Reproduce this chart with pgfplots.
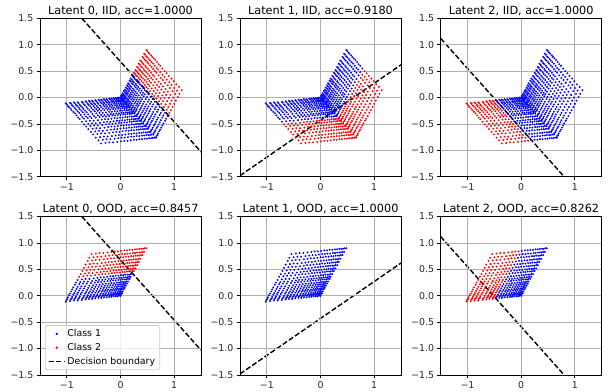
\documentclass[border=0pt]{standalone}
\usepackage{fontspec}
\setmainfont{DejaVu Sans}
\usepackage{pgfplots}
\usepackage{pgfplotstable}
\pgfplotsset{compat=1.18}

\definecolor{gridgray}{RGB}{176,176,176}
\definecolor{legendgray}{RGB}{204,204,204}

% Embedded points, one table per face and per quadrant of the two latents
% that vary on that face (L = latent below 0.5, H = latent above 0.5).
% Face uv: latent 2 fixed at 0 (IID)
\pgfplotstableread{
x y
0.00 0.00
0.02 -0.02
0.04 -0.05
0.06 -0.07
0.09 -0.10
0.11 -0.13
0.14 -0.16
0.17 -0.19
0.20 -0.23
0.23 -0.27
0.26 -0.30
0.30 -0.35
0.01 0.03
0.03 0.01
0.05 -0.02
0.07 -0.04
0.10 -0.07
0.12 -0.10
0.15 -0.13
0.18 -0.16
0.21 -0.20
0.24 -0.24
0.27 -0.27
0.31 -0.32
0.03 0.05
0.05 0.03
0.07 0.00
0.09 -0.02
0.12 -0.05
0.14 -0.08
0.17 -0.11
0.20 -0.14
0.23 -0.18
0.26 -0.22
0.29 -0.25
0.33 -0.30
0.04 0.08
0.06 0.06
0.08 0.03
0.10 0.01
0.13 -0.02
0.15 -0.05
0.18 -0.08
0.21 -0.11
0.24 -0.15
0.27 -0.19
0.30 -0.22
0.34 -0.27
0.06 0.12
0.08 0.10
0.10 0.07
0.12 0.05
0.15 0.02
0.17 -0.01
0.20 -0.04
0.23 -0.07
0.26 -0.11
0.29 -0.15
0.32 -0.18
0.36 -0.23
0.08 0.15
0.10 0.13
0.12 0.10
0.14 0.08
0.17 0.05
0.19 0.02
0.22 -0.01
0.25 -0.04
0.28 -0.08
0.31 -0.12
0.34 -0.15
0.38 -0.20
0.10 0.19
0.12 0.17
0.14 0.14
0.16 0.12
0.19 0.09
0.21 0.06
0.24 0.03
0.27 0.00
0.30 -0.04
0.33 -0.08
0.36 -0.11
0.40 -0.16
0.12 0.23
0.14 0.21
0.16 0.18
0.18 0.16
0.21 0.13
0.23 0.10
0.26 0.07
0.29 0.04
0.32 0.00
0.35 -0.04
0.38 -0.07
0.42 -0.12
0.14 0.27
0.16 0.25
0.18 0.22
0.20 0.20
0.23 0.17
0.25 0.14
0.28 0.11
0.31 0.08
0.34 0.04
0.37 0.00
0.40 -0.03
0.44 -0.08
0.17 0.32
0.19 0.30
0.21 0.27
0.23 0.25
0.26 0.22
0.28 0.19
0.31 0.16
0.34 0.13
0.37 0.09
0.40 0.05
0.43 0.02
0.47 -0.03
0.19 0.36
0.21 0.34
0.23 0.31
0.25 0.29
0.28 0.26
0.30 0.23
0.33 0.20
0.36 0.17
0.39 0.13
0.42 0.09
0.45 0.06
0.49 0.01
0.22 0.41
0.24 0.39
0.26 0.36
0.28 0.34
0.31 0.31
0.33 0.28
0.36 0.25
0.39 0.22
0.42 0.18
0.45 0.14
0.48 0.11
0.52 0.06
}\uvLL
\pgfplotstableread{
x y
0.34 -0.40
0.38 -0.44
0.42 -0.49
0.47 -0.54
0.51 -0.59
0.56 -0.65
0.61 -0.70
0.66 -0.76
0.35 -0.37
0.39 -0.41
0.43 -0.46
0.48 -0.51
0.52 -0.56
0.57 -0.62
0.62 -0.67
0.67 -0.73
0.37 -0.35
0.41 -0.39
0.45 -0.44
0.50 -0.49
0.54 -0.54
0.59 -0.60
0.64 -0.65
0.69 -0.71
0.38 -0.32
0.42 -0.36
0.46 -0.41
0.51 -0.46
0.55 -0.51
0.60 -0.57
0.65 -0.62
0.70 -0.68
0.40 -0.28
0.44 -0.32
0.48 -0.37
0.53 -0.42
0.57 -0.47
0.62 -0.53
0.67 -0.58
0.72 -0.64
0.42 -0.25
0.46 -0.29
0.50 -0.34
0.55 -0.39
0.59 -0.44
0.64 -0.50
0.69 -0.55
0.74 -0.61
0.44 -0.21
0.48 -0.25
0.52 -0.30
0.57 -0.35
0.61 -0.40
0.66 -0.46
0.71 -0.51
0.76 -0.57
0.46 -0.17
0.50 -0.21
0.54 -0.26
0.59 -0.31
0.63 -0.36
0.68 -0.42
0.73 -0.47
0.78 -0.53
0.48 -0.13
0.52 -0.17
0.56 -0.22
0.61 -0.27
0.65 -0.32
0.70 -0.38
0.75 -0.43
0.80 -0.49
0.51 -0.08
0.55 -0.12
0.59 -0.17
0.64 -0.22
0.68 -0.27
0.73 -0.33
0.78 -0.38
0.83 -0.44
0.53 -0.04
0.57 -0.08
0.61 -0.13
0.66 -0.18
0.70 -0.23
0.75 -0.29
0.80 -0.34
0.85 -0.40
0.56 0.01
0.60 -0.03
0.64 -0.08
0.69 -0.13
0.73 -0.18
0.78 -0.24
0.83 -0.29
0.88 -0.35
}\uvLH
\pgfplotstableread{
x y
0.25 0.47
0.27 0.45
0.29 0.42
0.31 0.40
0.34 0.37
0.36 0.34
0.39 0.31
0.42 0.28
0.45 0.24
0.48 0.20
0.51 0.17
0.55 0.12
0.28 0.52
0.30 0.50
0.32 0.47
0.34 0.45
0.37 0.42
0.39 0.39
0.42 0.36
0.45 0.33
0.48 0.29
0.51 0.25
0.54 0.22
0.58 0.17
0.31 0.58
0.33 0.56
0.35 0.53
0.37 0.51
0.40 0.48
0.42 0.45
0.45 0.42
0.48 0.39
0.51 0.35
0.54 0.31
0.57 0.28
0.61 0.23
0.34 0.64
0.36 0.62
0.38 0.59
0.40 0.57
0.43 0.54
0.45 0.51
0.48 0.48
0.51 0.45
0.54 0.41
0.57 0.37
0.60 0.34
0.64 0.29
0.37 0.70
0.39 0.68
0.41 0.65
0.43 0.63
0.46 0.60
0.48 0.57
0.51 0.54
0.54 0.51
0.57 0.47
0.60 0.43
0.63 0.40
0.67 0.35
0.41 0.77
0.43 0.75
0.45 0.72
0.47 0.70
0.50 0.67
0.52 0.64
0.55 0.61
0.58 0.58
0.61 0.54
0.64 0.50
0.67 0.47
0.71 0.42
0.44 0.83
0.46 0.81
0.48 0.78
0.50 0.76
0.53 0.73
0.55 0.70
0.58 0.67
0.61 0.64
0.64 0.60
0.67 0.56
0.70 0.53
0.74 0.48
0.48 0.90
0.50 0.88
0.52 0.85
0.54 0.83
0.57 0.80
0.59 0.77
0.62 0.74
0.65 0.71
0.68 0.67
0.71 0.63
0.74 0.60
0.78 0.55
}\uvHL
\pgfplotstableread{
x y
0.59 0.07
0.63 0.03
0.67 -0.02
0.72 -0.07
0.76 -0.12
0.81 -0.18
0.86 -0.23
0.91 -0.29
0.62 0.12
0.66 0.08
0.70 0.03
0.75 -0.02
0.79 -0.07
0.84 -0.13
0.89 -0.18
0.94 -0.24
0.65 0.18
0.69 0.14
0.73 0.09
0.78 0.04
0.82 -0.01
0.87 -0.07
0.92 -0.12
0.97 -0.18
0.68 0.24
0.72 0.20
0.76 0.15
0.81 0.10
0.85 0.05
0.90 -0.01
0.95 -0.06
1.00 -0.12
0.71 0.30
0.75 0.26
0.79 0.21
0.84 0.16
0.88 0.11
0.93 0.05
0.98 0.00
1.03 -0.06
0.75 0.37
0.79 0.33
0.83 0.28
0.88 0.23
0.92 0.18
0.97 0.12
1.02 0.07
1.07 0.01
0.78 0.43
0.82 0.39
0.86 0.34
0.91 0.29
0.95 0.24
1.00 0.18
1.05 0.13
1.10 0.07
0.82 0.50
0.86 0.46
0.90 0.41
0.95 0.36
0.99 0.31
1.04 0.25
1.09 0.20
1.14 0.14
}\uvHH
% Face vw: latent 0 fixed at 0 (IID)
\pgfplotstableread{
x y
0.00 0.00
-0.03 0.00
-0.06 -0.01
-0.09 -0.01
-0.13 -0.01
-0.17 -0.02
-0.21 -0.02
-0.26 -0.03
-0.31 -0.03
-0.36 -0.04
-0.41 -0.04
-0.47 -0.05
0.02 -0.02
-0.01 -0.02
-0.04 -0.03
-0.07 -0.03
-0.11 -0.03
-0.15 -0.04
-0.19 -0.04
-0.24 -0.05
-0.29 -0.05
-0.34 -0.06
-0.39 -0.06
-0.45 -0.07
0.04 -0.05
0.01 -0.05
-0.02 -0.06
-0.05 -0.06
-0.09 -0.06
-0.13 -0.07
-0.17 -0.07
-0.22 -0.08
-0.27 -0.08
-0.32 -0.09
-0.37 -0.09
-0.43 -0.10
0.06 -0.07
0.03 -0.07
0.00 -0.08
-0.03 -0.08
-0.07 -0.08
-0.11 -0.09
-0.15 -0.09
-0.20 -0.10
-0.25 -0.10
-0.30 -0.11
-0.35 -0.11
-0.41 -0.12
0.09 -0.10
0.06 -0.10
0.03 -0.11
0.00 -0.11
-0.04 -0.11
-0.08 -0.12
-0.12 -0.12
-0.17 -0.13
-0.22 -0.13
-0.27 -0.14
-0.32 -0.14
-0.38 -0.15
0.11 -0.13
0.08 -0.13
0.05 -0.14
0.02 -0.14
-0.02 -0.14
-0.06 -0.15
-0.10 -0.15
-0.15 -0.16
-0.20 -0.16
-0.25 -0.17
-0.30 -0.17
-0.36 -0.18
0.14 -0.16
0.11 -0.16
0.08 -0.17
0.05 -0.17
0.01 -0.17
-0.03 -0.18
-0.07 -0.18
-0.12 -0.19
-0.17 -0.19
-0.22 -0.20
-0.27 -0.20
-0.33 -0.21
0.17 -0.19
0.14 -0.19
0.11 -0.20
0.08 -0.20
0.04 -0.20
0.00 -0.21
-0.04 -0.21
-0.09 -0.22
-0.14 -0.22
-0.19 -0.23
-0.24 -0.23
-0.30 -0.24
0.20 -0.23
0.17 -0.23
0.14 -0.24
0.11 -0.24
0.07 -0.24
0.03 -0.25
-0.01 -0.25
-0.06 -0.26
-0.11 -0.26
-0.16 -0.27
-0.21 -0.27
-0.27 -0.28
0.23 -0.27
0.20 -0.27
0.17 -0.28
0.14 -0.28
0.10 -0.28
0.06 -0.29
0.02 -0.29
-0.03 -0.30
-0.08 -0.30
-0.13 -0.31
-0.18 -0.31
-0.24 -0.32
0.26 -0.30
0.23 -0.30
0.20 -0.31
0.17 -0.31
0.13 -0.31
0.09 -0.32
0.05 -0.32
0.00 -0.33
-0.05 -0.33
-0.10 -0.34
-0.15 -0.34
-0.21 -0.35
0.30 -0.35
0.27 -0.35
0.24 -0.36
0.21 -0.36
0.17 -0.36
0.13 -0.37
0.09 -0.37
0.04 -0.38
-0.01 -0.38
-0.06 -0.39
-0.11 -0.39
-0.17 -0.40
}\vwLL
\pgfplotstableread{
x y
-0.53 -0.06
-0.59 -0.06
-0.65 -0.07
-0.72 -0.08
-0.80 -0.09
-0.87 -0.09
-0.94 -0.10
-1.02 -0.11
-0.51 -0.08
-0.57 -0.08
-0.63 -0.09
-0.70 -0.10
-0.78 -0.11
-0.85 -0.11
-0.92 -0.12
-1.00 -0.13
-0.49 -0.11
-0.55 -0.11
-0.61 -0.12
-0.68 -0.13
-0.76 -0.14
-0.83 -0.14
-0.90 -0.15
-0.98 -0.16
-0.47 -0.13
-0.53 -0.13
-0.59 -0.14
-0.66 -0.15
-0.74 -0.16
-0.81 -0.16
-0.88 -0.17
-0.96 -0.18
-0.44 -0.16
-0.50 -0.16
-0.56 -0.17
-0.63 -0.18
-0.71 -0.19
-0.78 -0.19
-0.85 -0.20
-0.93 -0.21
-0.42 -0.19
-0.48 -0.19
-0.54 -0.20
-0.61 -0.21
-0.69 -0.22
-0.76 -0.22
-0.83 -0.23
-0.91 -0.24
-0.39 -0.22
-0.45 -0.22
-0.51 -0.23
-0.58 -0.24
-0.66 -0.25
-0.73 -0.25
-0.80 -0.26
-0.88 -0.27
-0.36 -0.25
-0.42 -0.25
-0.48 -0.26
-0.55 -0.27
-0.63 -0.28
-0.70 -0.28
-0.77 -0.29
-0.85 -0.30
-0.33 -0.29
-0.39 -0.29
-0.45 -0.30
-0.52 -0.31
-0.60 -0.32
-0.67 -0.32
-0.74 -0.33
-0.82 -0.34
-0.30 -0.33
-0.36 -0.33
-0.42 -0.34
-0.49 -0.35
-0.57 -0.36
-0.64 -0.36
-0.71 -0.37
-0.79 -0.38
-0.27 -0.36
-0.33 -0.36
-0.39 -0.37
-0.46 -0.38
-0.54 -0.39
-0.61 -0.39
-0.68 -0.40
-0.76 -0.41
-0.23 -0.41
-0.29 -0.41
-0.35 -0.42
-0.42 -0.43
-0.50 -0.44
-0.57 -0.44
-0.64 -0.45
-0.72 -0.46
}\vwLH
\pgfplotstableread{
x y
0.34 -0.40
0.31 -0.40
0.28 -0.41
0.25 -0.41
0.21 -0.41
0.17 -0.42
0.13 -0.42
0.08 -0.43
0.03 -0.43
-0.02 -0.44
-0.07 -0.44
-0.13 -0.45
0.38 -0.44
0.35 -0.44
0.32 -0.45
0.29 -0.45
0.25 -0.45
0.21 -0.46
0.17 -0.46
0.12 -0.47
0.07 -0.47
0.02 -0.48
-0.03 -0.48
-0.09 -0.49
0.42 -0.49
0.39 -0.49
0.36 -0.50
0.33 -0.50
0.29 -0.50
0.25 -0.51
0.21 -0.51
0.16 -0.52
0.11 -0.52
0.06 -0.53
0.01 -0.53
-0.05 -0.54
0.47 -0.54
0.44 -0.54
0.41 -0.55
0.38 -0.55
0.34 -0.55
0.30 -0.56
0.26 -0.56
0.21 -0.57
0.16 -0.57
0.11 -0.58
0.06 -0.58
0.00 -0.59
0.51 -0.59
0.48 -0.59
0.45 -0.60
0.42 -0.60
0.38 -0.60
0.34 -0.61
0.30 -0.61
0.25 -0.62
0.20 -0.62
0.15 -0.63
0.10 -0.63
0.04 -0.64
0.56 -0.65
0.53 -0.65
0.50 -0.66
0.47 -0.66
0.43 -0.66
0.39 -0.67
0.35 -0.67
0.30 -0.68
0.25 -0.68
0.20 -0.69
0.15 -0.69
0.09 -0.70
0.61 -0.70
0.58 -0.70
0.55 -0.71
0.52 -0.71
0.48 -0.71
0.44 -0.72
0.40 -0.72
0.35 -0.73
0.30 -0.73
0.25 -0.74
0.20 -0.74
0.14 -0.75
0.66 -0.76
0.63 -0.76
0.60 -0.77
0.57 -0.77
0.53 -0.77
0.49 -0.78
0.45 -0.78
0.40 -0.79
0.35 -0.79
0.30 -0.80
0.25 -0.80
0.19 -0.81
}\vwHL
\pgfplotstableread{
x y
-0.19 -0.46
-0.25 -0.46
-0.31 -0.47
-0.38 -0.48
-0.46 -0.49
-0.53 -0.49
-0.60 -0.50
-0.68 -0.51
-0.15 -0.50
-0.21 -0.50
-0.27 -0.51
-0.34 -0.52
-0.42 -0.53
-0.49 -0.53
-0.56 -0.54
-0.64 -0.55
-0.11 -0.55
-0.17 -0.55
-0.23 -0.56
-0.30 -0.57
-0.38 -0.58
-0.45 -0.58
-0.52 -0.59
-0.60 -0.60
-0.06 -0.60
-0.12 -0.60
-0.18 -0.61
-0.25 -0.62
-0.33 -0.63
-0.40 -0.63
-0.47 -0.64
-0.55 -0.65
-0.02 -0.65
-0.08 -0.65
-0.14 -0.66
-0.21 -0.67
-0.29 -0.68
-0.36 -0.68
-0.43 -0.69
-0.51 -0.70
0.03 -0.71
-0.03 -0.71
-0.09 -0.72
-0.16 -0.73
-0.24 -0.74
-0.31 -0.74
-0.38 -0.75
-0.46 -0.76
0.08 -0.76
0.02 -0.76
-0.04 -0.77
-0.11 -0.78
-0.19 -0.79
-0.26 -0.79
-0.33 -0.80
-0.41 -0.81
0.13 -0.82
0.07 -0.82
0.01 -0.83
-0.06 -0.84
-0.14 -0.85
-0.21 -0.85
-0.28 -0.86
-0.36 -0.87
}\vwHH
% Face uw: latent 1 fixed at 0 (OOD)
\pgfplotstableread{
x y
0.00 0.00
-0.03 0.00
-0.06 -0.01
-0.09 -0.01
-0.13 -0.01
-0.17 -0.02
-0.21 -0.02
-0.26 -0.03
-0.31 -0.03
-0.36 -0.04
-0.41 -0.04
-0.47 -0.05
0.01 0.03
-0.02 0.03
-0.05 0.02
-0.08 0.02
-0.12 0.02
-0.16 0.01
-0.20 0.01
-0.25 0.00
-0.30 0.00
-0.35 -0.01
-0.40 -0.01
-0.46 -0.02
0.03 0.05
0.00 0.05
-0.03 0.04
-0.06 0.04
-0.10 0.04
-0.14 0.03
-0.18 0.03
-0.23 0.02
-0.28 0.02
-0.33 0.01
-0.38 0.01
-0.44 0.00
0.04 0.08
0.01 0.08
-0.02 0.07
-0.05 0.07
-0.09 0.07
-0.13 0.06
-0.17 0.06
-0.22 0.05
-0.27 0.05
-0.32 0.04
-0.37 0.04
-0.43 0.03
0.06 0.12
0.03 0.12
0.00 0.11
-0.03 0.11
-0.07 0.11
-0.11 0.10
-0.15 0.10
-0.20 0.09
-0.25 0.09
-0.30 0.08
-0.35 0.08
-0.41 0.07
0.08 0.15
0.05 0.15
0.02 0.14
-0.01 0.14
-0.05 0.14
-0.09 0.13
-0.13 0.13
-0.18 0.12
-0.23 0.12
-0.28 0.11
-0.33 0.11
-0.39 0.10
0.10 0.19
0.07 0.19
0.04 0.18
0.01 0.18
-0.03 0.18
-0.07 0.17
-0.11 0.17
-0.16 0.16
-0.21 0.16
-0.26 0.15
-0.31 0.15
-0.37 0.14
0.12 0.23
0.09 0.23
0.06 0.22
0.03 0.22
-0.01 0.22
-0.05 0.21
-0.09 0.21
-0.14 0.20
-0.19 0.20
-0.24 0.19
-0.29 0.19
-0.35 0.18
0.14 0.27
0.11 0.27
0.08 0.26
0.05 0.26
0.01 0.26
-0.03 0.25
-0.07 0.25
-0.12 0.24
-0.17 0.24
-0.22 0.23
-0.27 0.23
-0.33 0.22
0.17 0.32
0.14 0.32
0.11 0.31
0.08 0.31
0.04 0.31
0.00 0.30
-0.04 0.30
-0.09 0.29
-0.14 0.29
-0.19 0.28
-0.24 0.28
-0.30 0.27
0.19 0.36
0.16 0.36
0.13 0.35
0.10 0.35
0.06 0.35
0.02 0.34
-0.02 0.34
-0.07 0.33
-0.12 0.33
-0.17 0.32
-0.22 0.32
-0.28 0.31
0.22 0.41
0.19 0.41
0.16 0.40
0.13 0.40
0.09 0.40
0.05 0.39
0.01 0.39
-0.04 0.38
-0.09 0.38
-0.14 0.37
-0.19 0.37
-0.25 0.36
}\uwLL
\pgfplotstableread{
x y
-0.53 -0.06
-0.59 -0.06
-0.65 -0.07
-0.72 -0.08
-0.80 -0.09
-0.87 -0.09
-0.94 -0.10
-1.02 -0.11
-0.52 -0.03
-0.58 -0.03
-0.64 -0.04
-0.71 -0.05
-0.79 -0.06
-0.86 -0.06
-0.93 -0.07
-1.01 -0.08
-0.50 -0.01
-0.56 -0.01
-0.62 -0.02
-0.69 -0.03
-0.77 -0.04
-0.84 -0.04
-0.91 -0.05
-0.99 -0.06
-0.49 0.02
-0.55 0.02
-0.61 0.01
-0.68 0.00
-0.76 -0.01
-0.83 -0.01
-0.90 -0.02
-0.98 -0.03
-0.47 0.06
-0.53 0.06
-0.59 0.05
-0.66 0.04
-0.74 0.03
-0.81 0.03
-0.88 0.02
-0.96 0.01
-0.45 0.09
-0.51 0.09
-0.57 0.08
-0.64 0.07
-0.72 0.06
-0.79 0.06
-0.86 0.05
-0.94 0.04
-0.43 0.13
-0.49 0.13
-0.55 0.12
-0.62 0.11
-0.70 0.10
-0.77 0.10
-0.84 0.09
-0.92 0.08
-0.41 0.17
-0.47 0.17
-0.53 0.16
-0.60 0.15
-0.68 0.14
-0.75 0.14
-0.82 0.13
-0.90 0.12
-0.39 0.21
-0.45 0.21
-0.51 0.20
-0.58 0.19
-0.66 0.18
-0.73 0.18
-0.80 0.17
-0.88 0.16
-0.36 0.26
-0.42 0.26
-0.48 0.25
-0.55 0.24
-0.63 0.23
-0.70 0.23
-0.77 0.22
-0.85 0.21
-0.34 0.30
-0.40 0.30
-0.46 0.29
-0.53 0.28
-0.61 0.27
-0.68 0.27
-0.75 0.26
-0.83 0.25
-0.31 0.35
-0.37 0.35
-0.43 0.34
-0.50 0.33
-0.58 0.32
-0.65 0.32
-0.72 0.31
-0.80 0.30
}\uwLH
\pgfplotstableread{
x y
0.25 0.47
0.22 0.47
0.19 0.46
0.16 0.46
0.12 0.46
0.08 0.45
0.04 0.45
-0.01 0.44
-0.06 0.44
-0.11 0.43
-0.16 0.43
-0.22 0.42
0.28 0.52
0.25 0.52
0.22 0.51
0.19 0.51
0.15 0.51
0.11 0.50
0.07 0.50
0.02 0.49
-0.03 0.49
-0.08 0.48
-0.13 0.48
-0.19 0.47
0.31 0.58
0.28 0.58
0.25 0.57
0.22 0.57
0.18 0.57
0.14 0.56
0.10 0.56
0.05 0.55
0.00 0.55
-0.05 0.54
-0.10 0.54
-0.16 0.53
0.34 0.64
0.31 0.64
0.28 0.63
0.25 0.63
0.21 0.63
0.17 0.62
0.13 0.62
0.08 0.61
0.03 0.61
-0.02 0.60
-0.07 0.60
-0.13 0.59
0.37 0.70
0.34 0.70
0.31 0.69
0.28 0.69
0.24 0.69
0.20 0.68
0.16 0.68
0.11 0.67
0.06 0.67
0.01 0.66
-0.04 0.66
-0.10 0.65
0.41 0.77
0.38 0.77
0.35 0.76
0.32 0.76
0.28 0.76
0.24 0.75
0.20 0.75
0.15 0.74
0.10 0.74
0.05 0.73
0.00 0.73
-0.06 0.72
0.44 0.83
0.41 0.83
0.38 0.82
0.35 0.82
0.31 0.82
0.27 0.81
0.23 0.81
0.18 0.80
0.13 0.80
0.08 0.79
0.03 0.79
-0.03 0.78
0.48 0.90
0.45 0.90
0.42 0.89
0.39 0.89
0.35 0.89
0.31 0.88
0.27 0.88
0.22 0.87
0.17 0.87
0.12 0.86
0.07 0.86
0.01 0.85
}\uwHL
\pgfplotstableread{
x y
-0.28 0.41
-0.34 0.41
-0.40 0.40
-0.47 0.39
-0.55 0.38
-0.62 0.38
-0.69 0.37
-0.77 0.36
-0.25 0.46
-0.31 0.46
-0.37 0.45
-0.44 0.44
-0.52 0.43
-0.59 0.43
-0.66 0.42
-0.74 0.41
-0.22 0.52
-0.28 0.52
-0.34 0.51
-0.41 0.50
-0.49 0.49
-0.56 0.49
-0.63 0.48
-0.71 0.47
-0.19 0.58
-0.25 0.58
-0.31 0.57
-0.38 0.56
-0.46 0.55
-0.53 0.55
-0.60 0.54
-0.68 0.53
-0.16 0.64
-0.22 0.64
-0.28 0.63
-0.35 0.62
-0.43 0.61
-0.50 0.61
-0.57 0.60
-0.65 0.59
-0.12 0.71
-0.18 0.71
-0.24 0.70
-0.31 0.69
-0.39 0.68
-0.46 0.68
-0.53 0.67
-0.61 0.66
-0.09 0.77
-0.15 0.77
-0.21 0.76
-0.28 0.75
-0.36 0.74
-0.43 0.74
-0.50 0.73
-0.58 0.72
-0.05 0.84
-0.11 0.84
-0.17 0.83
-0.24 0.82
-0.32 0.81
-0.39 0.81
-0.46 0.80
-0.54 0.79
}\uwHH

\pgfplotsset{
  latent/.style={
    scale only axis, width=171.3pt, height=168.5pt,
    anchor=south west,
    xmin=-1.5, xmax=1.5, ymin=-1.5, ymax=1.5,
    xtick={-1,0,1}, xticklabels={−1,0,1},
    ytick={-1.5,-1,-0.5,0,0.5,1,1.5},
    yticklabels={−1.5,−1.0,−0.5,0.0,0.5,1.0,1.5},
    tick pos=left, tick align=outside,
    major tick length=3.5pt,
    every tick/.style={black, line width=0.8pt},
    axis line style={line width=0.8pt},
    grid=major, major grid style={gridgray, line width=0.8pt},
    axis on top,
    tick label style={font=\fontsize{10}{12}\selectfont, text=black!85},
    title style={font=\fontsize{12}{14}\selectfont, at={(0.5,1)}, anchor=base, yshift=-1.5pt},
  },
  cls1/.style={only marks, mark=*, mark size=0.8pt, blue, forget plot},
  cls2/.style={only marks, mark=*, mark size=0.8pt, red, forget plot},
  boundary/.style={black, line width=1.5pt, dash pattern=on 5.5pt off 2.4pt, forget plot},
}

\begin{document}
\begin{tikzpicture}
\useasboundingbox (0,0) rectangle (646.8pt,417pt);

% Top row: IID data
\begin{axis}[latent, at={(42.55pt,229pt)}, title={Latent 0, IID, acc=1.0000}]
\addplot[cls1] table {\uvLL};
\addplot[cls1] table {\uvLH};
\addplot[cls1] table {\vwLL};
\addplot[cls1] table {\vwLH};
\addplot[cls1] table {\vwHL};
\addplot[cls1] table {\vwHH};
\addplot[cls2] table {\uvHL};
\addplot[cls2] table {\uvHH};
\addplot[boundary] coordinates {(-0.72,1.5) (1.5,-1.03)};
\end{axis}

\begin{axis}[latent, at={(255.3pt,229pt)}, title={Latent 1, IID, acc=0.9180}]
\addplot[cls1] table {\uvLL};
\addplot[cls1] table {\uvHL};
\addplot[cls1] table {\vwLL};
\addplot[cls1] table {\vwLH};
\addplot[cls2] table {\uvLH};
\addplot[cls2] table {\uvHH};
\addplot[cls2] table {\vwHL};
\addplot[cls2] table {\vwHH};
\addplot[boundary] coordinates {(-1.5,-1.48) (1.5,0.62)};
\end{axis}

\begin{axis}[latent, at={(468.8pt,229pt)}, title={Latent 2, IID, acc=1.0000}]
\addplot[cls1] table {\uvLL};
\addplot[cls1] table {\uvLH};
\addplot[cls1] table {\uvHL};
\addplot[cls1] table {\uvHH};
\addplot[cls1] table {\vwLL};
\addplot[cls1] table {\vwHL};
\addplot[cls2] table {\vwLH};
\addplot[cls2] table {\vwHH};
\addplot[boundary] coordinates {(-1.5,1.12) (0.80,-1.5)};
\end{axis}

% Bottom row: OOD data
\begin{axis}[latent, at={(42.55pt,18.1pt)}, title={Latent 0, OOD, acc=0.8457},
  legend style={at={(0.03,0.03)}, anchor=south west, draw=legendgray,
    line width=0.8pt, rounded corners=2pt, fill=white, fill opacity=0.8,
    text opacity=1, font=\fontsize{10}{12}\selectfont,
    inner xsep=3pt, inner ysep=2.5pt, row sep=1.5pt},
  legend cell align=left]
\addplot[cls1] table {\uwLL};
\addplot[cls1] table {\uwLH};
\addplot[cls2] table {\uwHL};
\addplot[cls2] table {\uwHH};
\addplot[boundary] coordinates {(-0.72,1.5) (1.5,-1.03)};
\addlegendimage{only marks, mark=*, mark size=0.8pt, blue}
\addlegendentry{Class 1}
\addlegendimage{only marks, mark=*, mark size=0.8pt, red}
\addlegendentry{Class 2}
\addlegendimage{black, line width=1.5pt, dash pattern=on 5.5pt off 2.4pt}
\addlegendentry{Decision boundary}
\end{axis}

\begin{axis}[latent, at={(255.3pt,18.1pt)}, title={Latent 1, OOD, acc=1.0000}]
\addplot[cls1] table {\uwLL};
\addplot[cls1] table {\uwLH};
\addplot[cls1] table {\uwHL};
\addplot[cls1] table {\uwHH};
\addplot[boundary] coordinates {(-1.5,-1.48) (1.5,0.62)};
\end{axis}

\begin{axis}[latent, at={(468.8pt,18.1pt)}, title={Latent 2, OOD, acc=0.8262}]
\addplot[cls1] table {\uwLL};
\addplot[cls1] table {\uwHL};
\addplot[cls2] table {\uwLH};
\addplot[cls2] table {\uwHH};
\addplot[boundary] coordinates {(-1.5,1.12) (0.80,-1.5)};
\end{axis}
\end{tikzpicture}
\end{document}
